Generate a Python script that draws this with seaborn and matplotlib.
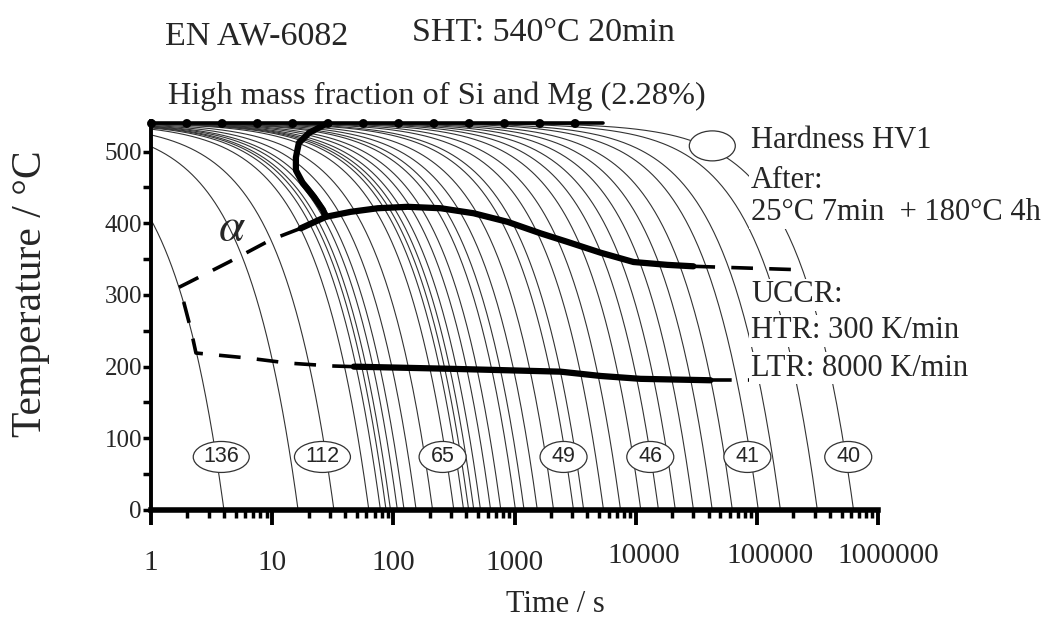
import numpy as np
import pandas as pd
import matplotlib
matplotlib.use("Agg")
import matplotlib.pyplot as plt
import matplotlib.transforms as mtransforms
from matplotlib.patches import Ellipse
from matplotlib.ticker import FixedLocator, LogLocator, MultipleLocator, NullFormatter
import seaborn as sns

# ---------------- data ----------------
T_START = 540.0
# linear cooling rates (K/s) of the thin cooling curves
cooling_rates = [135, 33, 16.7, 8.6, 6.9, 6.2, 5.7, 5.0, 4.4, 3.5, 2.56, 1.71,
                 1.42, 1.29, 1.17, 1.03, 0.85, 0.70, 0.53, 0.45, 0.35, 0.257,
                 0.176, 0.145, 0.0995, 0.072, 0.049, 0.035, 0.0254, 0.018,
                 0.0126, 0.0086, 0.00525, 0.00345, 0.00171, 0.00086]

hardness_values = [136, 112, 65, 49, 46, 41, 40]
hardness_times = [3.8, 26, 255, 2540, 13200, 83500, 568000]
hardness_temp = 74

# dissolution line at the top (dotted)
top_t = [1, 5400]
top_T = [540, 540]

# start of the precipitation, left thick branch
beta_t = [28.8, 20.1, 16.6, 15.7, 15.7, 17.9, 22.1, 26.2, 27.7]
beta_T = [540, 526, 512, 492, 474, 456, 437, 419, 409]

# high temperature reaction (solid part and dashed extension)
htr_t = [17.2, 27.7, 44.5, 74.3, 131, 246, 460, 877, 1641, 2742, 5130, 9590, 18280, 29960]
htr_T = [393, 409, 416, 421, 423, 421, 414, 402, 386, 374, 359, 346, 342, 340]
htr_ext_t = [29960, 241700]
htr_ext_T = [340, 335]

# dashed boundary of alpha region
alpha_t = [17.2, 9.76, 4.4, 2.02, 1.67, 1.87, 2.14, 2.35, 6.3, 13.5, 30.5, 47.2]
alpha_T = [393, 377, 346, 317, 310, 289, 251, 219, 212, 205, 201, 200]

# low temperature reaction (solid part and dashed extension)
ltr_t = [47.2, 297, 2400, 5130, 10960, 41400]
ltr_T = [200, 197, 193, 187, 183, 181]
ltr_ext_t = [41400, 403500]
ltr_ext_T = [181, 181]

x_tick_values = [1, 10, 100, 1000, 10000, 100000, 1000000]
x_tick_labels = ["1", "10", "100", "1000", "10000", "100000", "1000000"]
y_tick_values = [0, 100, 200, 300, 400, 500]

# ---------------- build cooling curve table ----------------
rows = []
for i, r in enumerate(cooling_rates):
    t_end = T_START / r
    ts = np.logspace(np.log10(0.8), np.log10(t_end), 300)
    Ts = np.clip(T_START - r * ts, 0, None)
    for a, b in zip(ts, Ts):
        rows.append((i, a, b))
curves = pd.DataFrame(rows, columns=["curve", "t", "T"])

# ---------------- figure ----------------
sns.set_style("ticks")
plt.rcParams["font.family"] = ["Liberation Serif", "DejaVu Serif"]
plt.rcParams["mathtext.fontset"] = "stix"

W, H = 1057, 630
fig = plt.figure(figsize=(W / 100, H / 100), dpi=100)
ax = fig.add_axes([151 / W, (H - 510) / H, (878 - 151) / W, (510 - 120.8) / H])

sns.lineplot(data=curves, x="t", y="T", units="curve", estimator=None,
             sort=False, color="#333333", linewidth=0.8, ax=ax, legend=False)

thick = dict(color="black", solid_capstyle="round", zorder=6)
sns.lineplot(x=beta_t, y=beta_T, sort=False, estimator=None, linewidth=4.5, ax=ax, **thick)
sns.lineplot(x=htr_t, y=htr_T, sort=False, estimator=None, linewidth=4.5, ax=ax, **thick)
sns.lineplot(x=ltr_t, y=ltr_T, sort=False, estimator=None, linewidth=4.5, ax=ax, **thick)

dash = dict(color="black", linewidth=2.6, zorder=8)
ax.plot(alpha_t, alpha_T, dashes=(6, 4.5), **dash)
ax.plot(htr_ext_t, htr_ext_T, dashes=(6, 4.5), **dash)
ax.plot(ltr_ext_t, ltr_ext_T, dashes=(6, 4.5), **dash)

# top dotted dissolution line
ax.plot(top_t, top_T, color="black", linewidth=2.6, zorder=7, clip_on=False)
ax.plot(top_t, top_T, color="black", linewidth=6.5, zorder=7, clip_on=False,
        linestyle=(0, (0.01, 3.9)), dash_capstyle="round")


def ellipse_at(t, T, w_px, h_px):
    trans = fig.dpi_scale_trans + mtransforms.ScaledTranslation(t, T, ax.transData)
    e = Ellipse((0, 0), w_px / 100, h_px / 100, transform=trans, fc="white",
                ec="#333333", lw=0.9, zorder=9, clip_on=False)
    ax.add_patch(e)


# hardness labels
for hv, ht in zip(hardness_values, hardness_times):
    ellipse_at(ht, hardness_temp, 56 if hv >= 100 else 47, 31)
    ax.text(ht, hardness_temp, str(hv), ha="center", va="center", fontsize=15.5,
            family=["Liberation Sans", "DejaVu Sans"], zorder=10)

# legend ellipse for hardness (sits on a cooling curve)
ellipse_at(42900, 508, 46, 30)

ax.text(4.67, 392, r"$\alpha$", fontsize=34, ha="center", va="center", zorder=9)

ax.set_xscale("log")
ax.set_xlim(1, 1e6)
ax.set_ylim(0, 543)

ax.xaxis.set_major_locator(FixedLocator(x_tick_values))
ax.xaxis.set_major_formatter(NullFormatter())
ax.xaxis.set_minor_locator(LogLocator(base=10, subs=np.arange(2, 10)))
ax.xaxis.set_minor_formatter(NullFormatter())
ax.yaxis.set_major_locator(FixedLocator(y_tick_values))
ax.yaxis.set_minor_locator(MultipleLocator(50))

ax.tick_params(axis="x", which="major", direction="out", length=11, width=2.8,
               bottom=True, color="black")
ax.tick_params(axis="x", which="minor", direction="out", length=6, width=2.5,
               bottom=True, color="black")
ax.tick_params(axis="y", which="both", direction="out", length=5.5, width=2.5,
               labelsize=18, pad=1, left=True, color="black")
for s in ["top", "right"]:
    ax.spines[s].set_visible(False)
ax.spines["left"].set_linewidth(2.8)
ax.spines["bottom"].set_linewidth(4)
ax.spines["left"].set_color("black")
ax.spines["bottom"].set_color("black")

# x tick labels (the larger numbers sit a little higher / to the right)
label_dx = [0, 0, 0, 0, 8, 13, 10]
label_y = [563, 563, 563, 563, 556, 556, 556]
xform = mtransforms.blended_transform_factory(ax.transData, fig.transFigure)
for v, lab, dx, yy in zip(x_tick_values, x_tick_labels, label_dx, label_y):
    off = mtransforms.ScaledTranslation(dx / 100, 0, fig.dpi_scale_trans)
    ax.text(v, 1 - yy / H, lab, fontsize=21, ha="center", va="center",
            transform=xform + off, clip_on=False)

ax.set_xlabel("")
ax.set_ylabel("")
fig.text(555 / W, 1 - 605 / H, "Time / s", fontsize=22, ha="center", va="center")
fig.text(31 / W, 1 - 294 / H, "Temperature / °C", fontsize=30, ha="center",
         va="center", rotation=90)

# titles
fig.text(165 / W, 1 - 36 / H, "EN AW-6082", fontsize=24.5, va="center", ha="left")
fig.text(412 / W, 1 - 33 / H, "SHT: 540°C 20min", fontsize=24.5, va="center", ha="left")
fig.text(168 / W, 1 - 96 / H, "High mass fraction of Si and Mg (2.28%)", fontsize=23.3,
         va="center", ha="left")

# right annotation texts
box = dict(boxstyle="square,pad=0.05", fc="white", ec="none")
right_texts = [("Hardness HV1", 140), ("After:", 181), ("25°C 7min  + 180°C 4h", 213),
               ("UCCR:", 295), ("HTR: 300 K/min", 331), ("LTR: 8000 K/min", 368)]
for txt, y in right_texts:
    fig.text(751 / W, 1 - y / H, txt, fontsize=22, va="center", ha="left",
             bbox=box, zorder=5)

fig.savefig("out.png", dpi=100)
